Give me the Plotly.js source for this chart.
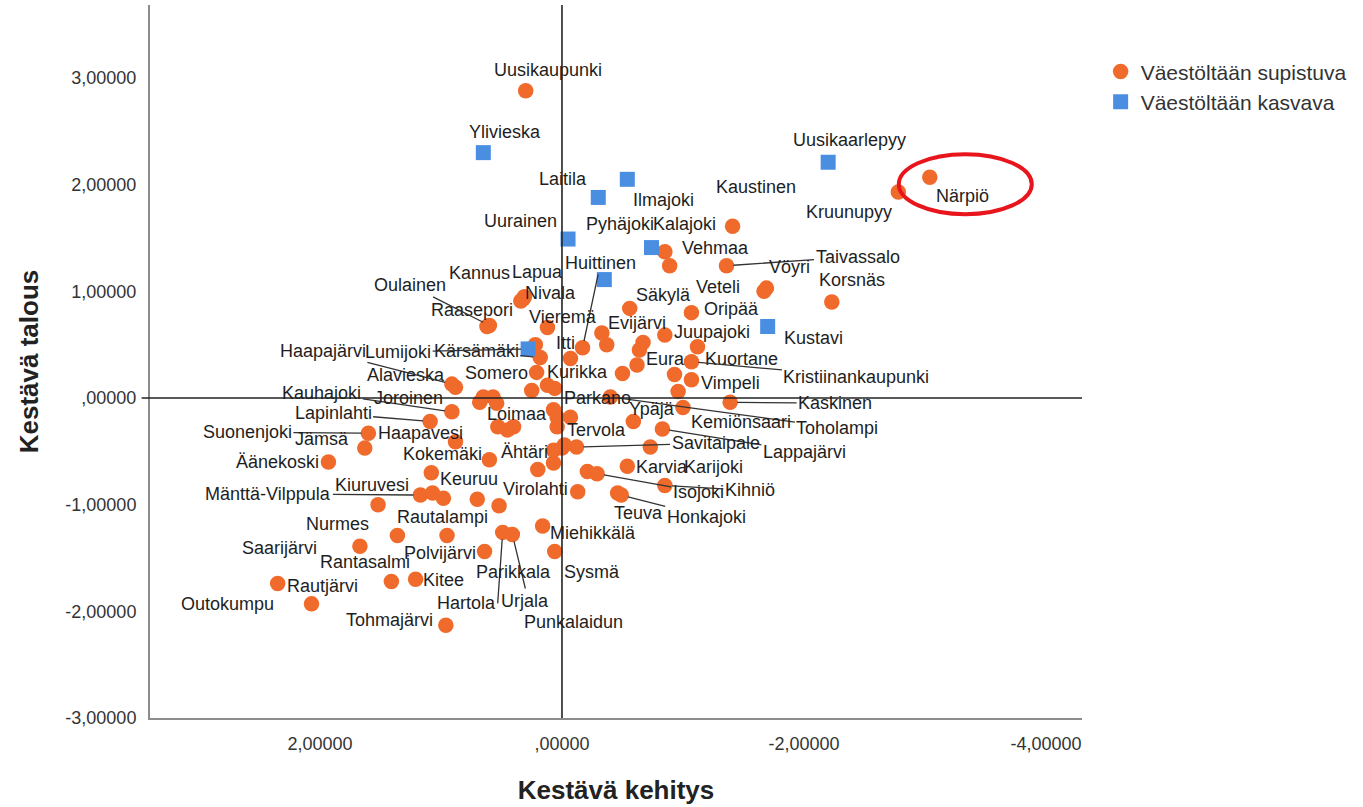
<!DOCTYPE html>
<html><head><meta charset="utf-8">
<script src="https://cdn.plot.ly/plotly-3.0.1.min.js"></script>
<style>html,body{margin:0;padding:0;background:#fff}#chart{width:1363px;height:807px}</style>
</head><body><div id="chart"></div>
<script>
// ---- data: Väestöltään supistuva (orange circles) ----
const shrinkNames = ["Uusikaupunki","Närpiö","Kruunupyy","Kaustinen","Kalajoki","Vehmaa","Taivassalo","Vöyri","Veteli","Korsnäs",
 "Säkylä","Oripää","Evijärvi","","Juupajoki","","","Kuortane","Kristiinankaupunki","Huittinen",
 "Itti","Eura","","","Vimpeli","","Toholampi","Kaskinen","Kemiönsaari","Ypäjä",
 "Lappajärvi","Savitaipale","","Tervola","","Parkano","Karvia","Karijoki","Isojoki","Kihniö",
 "Virolahti","Teuva","Honkajoki","Miehikkälä","Sysmä","Hartola","Urjala","Polvijärvi","Parikkala","Punkalaidun",
 "Rautalampi","Nurmes","","Saarijärvi","Rantasalmi","Kitee","Rautjärvi","Outokumpu","Tohmajärvi","Äänekoski",
 "Kokemäki","Keuruu","Mänttä-Vilppula","Kiuruvesi","","Suonenjoki","Jämsä","Haapavesi","Lapinlahti","Kauhajoki",
 "Joroinen","","","","Loimaa","","","Alavieska","Haapajärvi","Somero",
 "Kurikka","","","","","","Ähtäri","","","Kärsämäki",
 "","Raasepori","Oulainen","Vieremä","Nivala","Kannus","Lapua"];
const shrinkX = [0.30,-3.04,-2.78,-1.41,-0.85,-0.89,-1.36,-1.69,-1.67,-2.23,
 -0.56,-1.07,-0.33,-0.37,-0.85,-0.67,-0.64,-1.12,-1.07,-0.17,
 -0.07,-0.62,-0.50,-0.93,-1.07,-0.96,-0.40,-1.39,-1.00,-0.59,
 -0.83,-0.12,-0.73,0.00,-0.02,-0.07,-0.54,-0.21,-0.29,-0.85,
 -0.13,-0.46,-0.49,0.16,0.06,0.49,0.41,0.64,0.52,0.70,
 0.95,1.36,1.52,1.67,1.41,1.21,2.35,2.07,0.96,1.93,
 0.60,1.08,1.17,1.07,0.98,1.60,1.63,0.88,1.09,0.91,
 0.65,0.57,0.54,0.68,0.45,0.53,0.40,0.88,0.91,0.21,
 0.12,0.25,0.06,0.07,0.04,0.04,0.20,0.07,0.07,0.18,
 0.22,0.62,0.60,0.12,0.32,0.34,0.31];
const shrinkY = [2.88,2.07,1.93,1.61,1.37,1.24,1.24,1.03,1.00,0.90,
 0.84,0.80,0.61,0.50,0.59,0.52,0.45,0.48,0.34,0.47,
 0.37,0.31,0.23,0.22,0.17,0.06,0.01,-0.04,-0.09,-0.22,
 -0.29,-0.46,-0.46,-0.47,-0.44,-0.18,-0.64,-0.69,-0.71,-0.82,
 -0.88,-0.89,-0.91,-1.20,-1.44,-1.26,-1.28,-1.44,-1.01,-0.95,
 -1.29,-1.29,-1.00,-1.39,-1.72,-1.70,-1.74,-1.93,-2.13,-0.60,
 -0.58,-0.70,-0.91,-0.89,-0.94,-0.33,-0.47,-0.41,-0.22,-0.13,
 0.01,0.01,-0.05,-0.04,-0.30,-0.27,-0.27,0.10,0.13,0.24,
 0.12,0.07,0.09,-0.11,-0.18,-0.27,-0.67,-0.49,-0.61,0.38,
 0.50,0.67,0.68,0.66,0.93,0.91,0.95];

// ---- data: Väestöltään kasvava (blue squares) ----
const growNames = ["Ylivieska","Laitila","Ilmajoki","Uurainen","Pyhäjoki","","Uusikaarlepyy","Kustavi","Lumijoki"];
const growX = [0.65,-0.30,-0.54,-0.05,-0.74,-0.35,-2.20,-1.70,0.28];
const growY = [2.30,1.88,2.05,1.49,1.41,1.11,2.21,0.67,0.46];

const seriesNames = ["Väestöltään supistuva","Väestöltään kasvava"];
const xTickVals = [2, 0, -2, -4];
const xTickText = ["2,00000", ",00000", "-2,00000", "-4,00000"];
const yTickVals = [3, 2, 1, 0, -1, -2, -3];
const yTickText = ["3,00000","2,00000","1,00000",",00000","-1,00000","-2,00000","-3,00000"];
const highlighted = "Närpiö";

// ---- label placement (pixel offsets from the point; third item = leader line) ----
const labelPos = {
 "Uusikaupunki":[22,-21],"Närpiö":[33,19],"Kruunupyy":[-49,20],"Kaustinen":[23,-39],"Kalajoki":[20,-28],
 "Vehmaa":[46,-18],"Taivassalo":[131,-9,1],"Vöyri":[23,-21],"Veteli":[-46,-4],"Korsnäs":[20,-22],
 "Säkylä":[34,-13],"Oripää":[40,-4],"Evijärvi":[35,-10],"Juupajoki":[47,-3],"Kuortane":[44,12],
 "Kristiinankaupunki":[165,15,1],"Huittinen":[18,-85,1],"Itti":[-5,-16],"Eura":[29,-6],"Vimpeli":[39,3],
 "Toholampi":[227,31,1],"Kaskinen":[105,1,1],"Kemiönsaari":[58,14],"Ypäjä":[19,-12],"Lappajärvi":[142,23,1],
 "Savitaipale":[139,-4,1],"Tervola":[35,-18],"Parkano":[27,-19],"Karvia":[35,1],"Karijoki":[126,-5],
 "Isojoki":[101,18,1],"Kihniö":[85,5,1],"Virolahti":[-42,-3],"Teuva":[21,20],"Honkajoki":[85,22,1],
 "Miehikkälä":[50,7],"Sysmä":[37,20],"Hartola":[-5,71,1,"right","middle"],"Urjala":[13,54,1,"center","top"],
 "Polvijärvi":[-45,1],"Parikkala":[14,66],"Punkalaidun":[96,123],"Rautalampi":[-5,-19],"Nurmes":[-60,-12],
 "Saarijärvi":[-80,2],"Rantasalmi":[-26,-19],"Kitee":[28,1],"Rautjärvi":[45,2],"Outokumpu":[-84,0],
 "Tohmajärvi":[-56,-5],"Äänekoski":[-51,0],"Kokemäki":[-47,-6],"Keuruu":[38,6],"Mänttä-Vilppula":[-152,-1,1],
 "Kiuruvesi":[-61,-8],"Suonenjoki":[-121,-1,1],"Jämsä":[-43,-9],"Haapavesi":[-35,-9],"Lapinlahti":[-97,-8,1],
 "Kauhajoki":[-130,-19,1],"Joroinen":[-75,1],"Loimaa":[9,-16],"Alavieska":[-50,-12],"Haapajärvi":[-129,-33,1],
 "Somero":[-40,1],"Kurikka":[30,-13],"Ähtäri":[-13,-17],"Kärsämäki":[-64,-6,1],"Raasepori":[-15,-17],
 "Oulainen":[-79,-40,1],"Vieremä":[16,-11],"Nivala":[27,-6],"Kannus":[-41,-28],"Lapua":[13,-25],
 "Ylivieska":[22,-21],"Laitila":[-35,-18],"Ilmajoki":[36,21],"Uurainen":[-48,-18],"Pyhäjoki":[-32,-24],
 "Uusikaarlepyy":[21,-22],"Kustavi":[46,11],"Lumijoki":[-130,3,1]
};

const F = "Liberation Sans, Arial, sans-serif";
const annotations = [];
function addLabels(names, xs, ys) {
  names.forEach((n, i) => {
    const p = labelPos[n];
    if (!n || !p) return;
    const a = {x: xs[i], y: ys[i], xref: "x", yref: "y", text: n,
      font: {family: F, size: 18, color: "#1e1e1e"}};
    if (p[2]) {
      Object.assign(a, {showarrow: true, ax: p[0], ay: p[1], arrowhead: 0, arrowwidth: 1.3,
        arrowcolor: "#333", standoff: 7, xanchor: p[3] || "center", yanchor: p[4] || "middle"});
    } else {
      Object.assign(a, {showarrow: false, xshift: p[0], yshift: -p[1]});
    }
    annotations.push(a);
  });
}
addLabels(shrinkNames, shrinkX, shrinkY);
addLabels(growNames, growX, growY);

const hi = shrinkNames.indexOf(highlighted);

const traces = [
  {type: "scatter", mode: "markers", name: seriesNames[0], x: shrinkX, y: shrinkY, text: shrinkNames,
   marker: {symbol: "circle", size: 15.5, color: "#F06A2B", line: {width: 0}}},
  {type: "scatter", mode: "markers", name: seriesNames[1], x: growX, y: growY, text: growNames,
   marker: {symbol: "square", size: 15, color: "#4A8EE2", line: {width: 0}}}
];

const layout = {
  width: 1363, height: 807,
  margin: {l: 150, r: 281, t: 5, b: 89},
  paper_bgcolor: "#fff", plot_bgcolor: "#fff",
  font: {family: F, color: "#333"},
  showlegend: true,
  legend: {x: 1.02, xanchor: "left", y: 0.935, yanchor: "top",
    font: {family: F, size: 21, color: "#333"}, bgcolor: "rgba(0,0,0,0)", tracegroupgap: 0},
  xaxis: {range: [3.405, -4.298], tickvals: xTickVals, ticktext: xTickText, ticks: "",
    showgrid: false, zeroline: false, showline: true, linecolor: "#8c8c8c", linewidth: 2,
    tickfont: {family: F, size: 18, color: "#333"}, ticklabelstandoff: 8,
    title: {text: "<b>Kestävä kehitys</b>", font: {family: F, size: 26, color: "#222"}, standoff: 28}},
  yaxis: {range: [-3.0, 3.684], tickvals: yTickVals, ticktext: yTickText, ticks: "",
    showgrid: false, zeroline: false, showline: true, linecolor: "#8c8c8c", linewidth: 2,
    tickfont: {family: F, size: 18, color: "#333"}, ticklabelstandoff: 8,
    title: {text: "<b>Kestävä talous</b>", font: {family: F, size: 26, color: "#222"}, standoff: 19}},
  shapes: [
    {type: "line", xref: "x", yref: "paper", x0: 0, x1: 0, y0: 0, y1: 1, layer: "above",
     line: {color: "#222", width: 1.6}},
    {type: "line", xref: "paper", yref: "y", x0: -0.009, x1: 1, y0: 0, y1: 0, layer: "above",
     line: {color: "#222", width: 1.6}},
    {type: "circle", xref: "x", yref: "y", xsizemode: "pixel", ysizemode: "pixel",
     xanchor: shrinkX[hi], yanchor: shrinkY[hi], x0: -31, x1: 102, y0: -37, y1: 23,
     layer: "above", line: {color: "#E8161C", width: 4}}
  ],
  annotations: annotations
};

Plotly.newPlot("chart", traces, layout, {displayModeBar: false, staticPlot: true});
</script>
</body></html>
